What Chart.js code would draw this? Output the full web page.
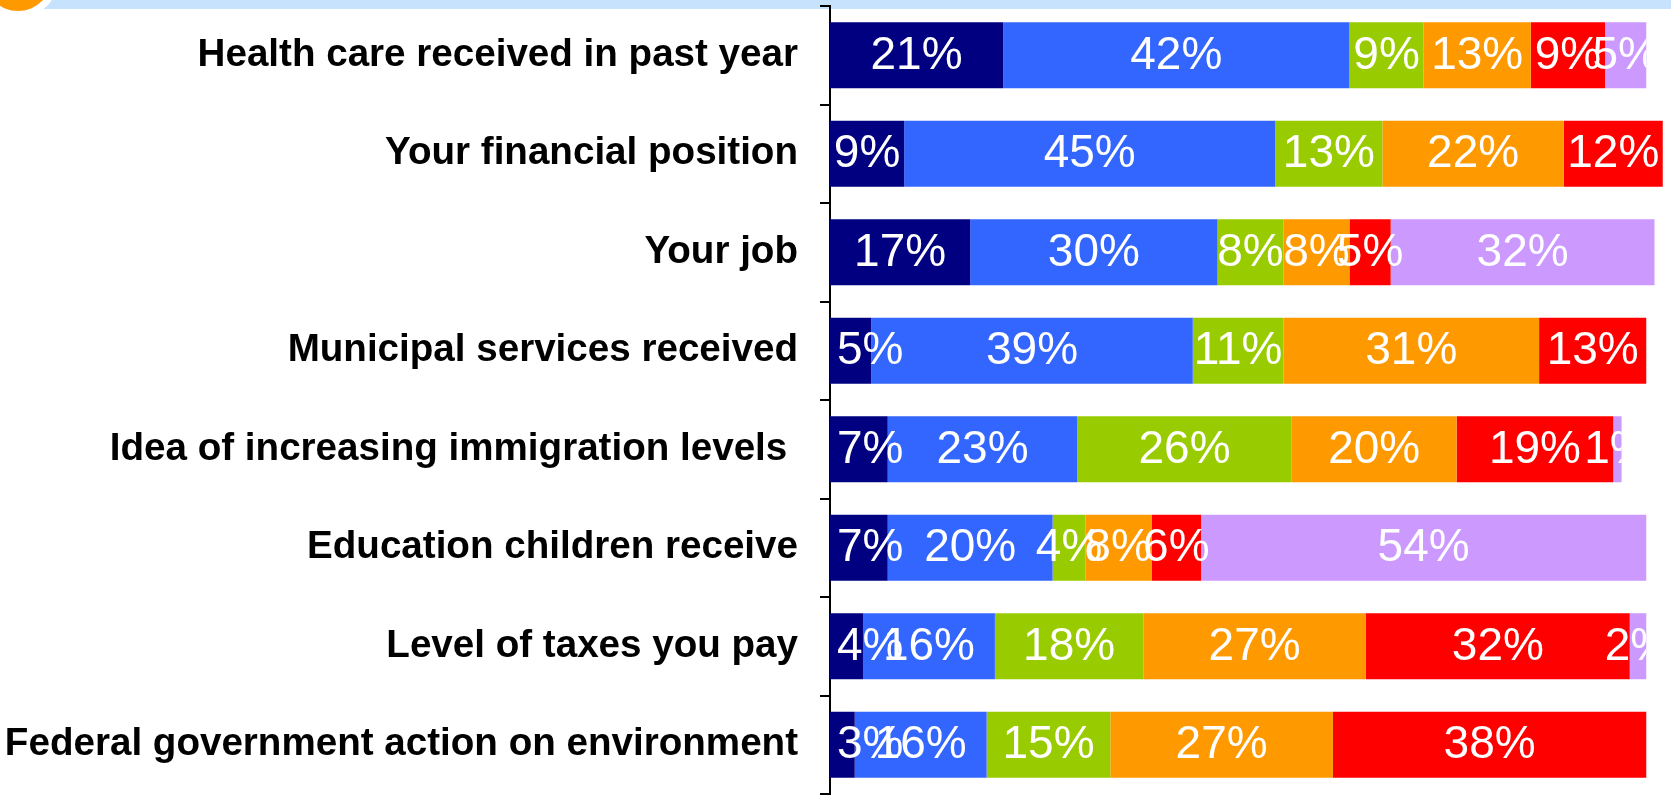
<!DOCTYPE html>
<html>
<head>
<meta charset="utf-8">
<script src="https://cdn.jsdelivr.net/npm/chart.js@4/dist/chart.umd.min.js"></script>
<style>
  body { margin: 0; background: #fff; overflow: hidden; }
  #wrap { position: relative; width: 1671px; height: 798px; overflow: hidden; }
  /* header strip and corner badge from the slide */
  #band { position: absolute; left: 44px; top: 0; width: 1627px; height: 9px; background: #c6e2fc; }
  #ring { position: absolute; left: -23px; top: -64px; width: 82px; height: 82px; border-radius: 50%; background: #fff; }
  #dot { position: absolute; left: -16px; top: -57px; width: 68px; height: 68px; border-radius: 50%; background: #ff9900; }
  canvas { position: absolute; left: 0; top: 0; }
</style>
</head>
<body>
<div id="wrap">
  <div id="band"></div>
  <div id="ring"></div>
  <div id="dot"></div>
  <canvas id="chart" width="1671" height="798"></canvas>
</div>
<script>
// rows, top to bottom
const categories = [
  'Health care received in past year',
  'Your financial position',
  'Your job',
  'Municipal services received',
  'Idea of increasing immigration levels ',
  'Education children receive',
  'Level of taxes you pay',
  'Federal government action on environment'
];

// six answer groups (no legend in the picture)
const seriesNames = ['Group 1', 'Group 2', 'Group 3', 'Group 4', 'Group 5', 'Group 6'];
const seriesColors = ['#000080', '#3366ff', '#99cc00', '#ff9900', '#ff0000', '#cc99ff'];

const group1 = [21, 9, 17, 5, 7, 7, 4, 3];
const group2 = [42, 45, 30, 39, 23, 20, 16, 16];
const group3 = [9, 13, 8, 11, 26, 4, 18, 15];
const group4 = [13, 22, 8, 31, 20, 8, 27, 27];
const group5 = [9, 12, 5, 13, 19, 6, 32, 38];
const group6 = [5, 0, 32, 0, 1, 54, 2, 0];

const allSeries = [group1, group2, group3, group4, group5, group6];
const rowTotals = categories.map((c, i) => allSeries.reduce((s, arr) => s + arr[i], 0));

const FONT = '"Liberation Sans", Arial, Helvetica, sans-serif';

// white % labels, clipped to each row's bar like the original
const segmentLabels = {
  id: 'segmentLabels',
  afterDatasetsDraw(chart) {
    const ctx = chart.ctx;
    const xs = chart.scales.x;
    ctx.save();
    ctx.font = '46px ' + FONT;
    ctx.fillStyle = '#fff';
    ctx.textAlign = 'center';
    ctx.textBaseline = 'middle';
    chart.data.datasets.forEach((ds, i) => {
      const meta = chart.getDatasetMeta(i);
      meta.data.forEach((bar, j) => {
        const v = ds.data[j];
        if (!v) return;
        const text = v + '%';
        const left = xs.getPixelForValue(0);
        const right = xs.getPixelForValue(rowTotals[j]);
        let cx = (bar.x + bar.base) / 2;
        // first segment: keep the label from running past the axis
        const half = ctx.measureText(text).width / 2;
        if (i === 0 && cx - half < left) cx = left + 7 + half;
        ctx.save();
        ctx.beginPath();
        ctx.rect(left, bar.y - bar.height / 2, right - left, bar.height);
        ctx.clip();
        ctx.fillText(text, cx, bar.y + 1);
        ctx.restore();
      });
    });
    ctx.restore();
  }
};

new Chart(document.getElementById('chart').getContext('2d'), {
  type: 'bar',
  data: {
    labels: categories,
    datasets: allSeries.map((arr, i) => ({
      label: seriesNames[i],
      data: arr,
      backgroundColor: seriesColors[i],
      borderWidth: 0,
      barPercentage: 0.67,
      categoryPercentage: 1.0
    }))
  },
  options: {
    indexAxis: 'y',
    responsive: false,
    animation: false,
    layout: { padding: { top: 6, bottom: 4, left: 0, right: 0 } },
    plugins: {
      legend: { display: false },
      tooltip: { enabled: false }
    },
    scales: {
      x: { display: false, stacked: true, min: 0, max: 102 },
      y: {
        stacked: true,
        grid: {
          display: true,
          offset: true,
          drawOnChartArea: false,
          drawTicks: true,
          tickLength: 10,
          color: '#000',
          lineWidth: 2
        },
        border: { display: true, color: '#000', width: 2 },
        ticks: {
          color: '#000',
          autoSkip: false,
          padding: 22,
          font: { family: FONT, size: 38.6, weight: 'bold' }
        },
        afterFit(scale) {
          scale.width = 830;
          scale.paddingTop = 0;
          scale.paddingBottom = 0;
        }
      }
    }
  },
  plugins: [segmentLabels]
});
</script>
</body>
</html>
